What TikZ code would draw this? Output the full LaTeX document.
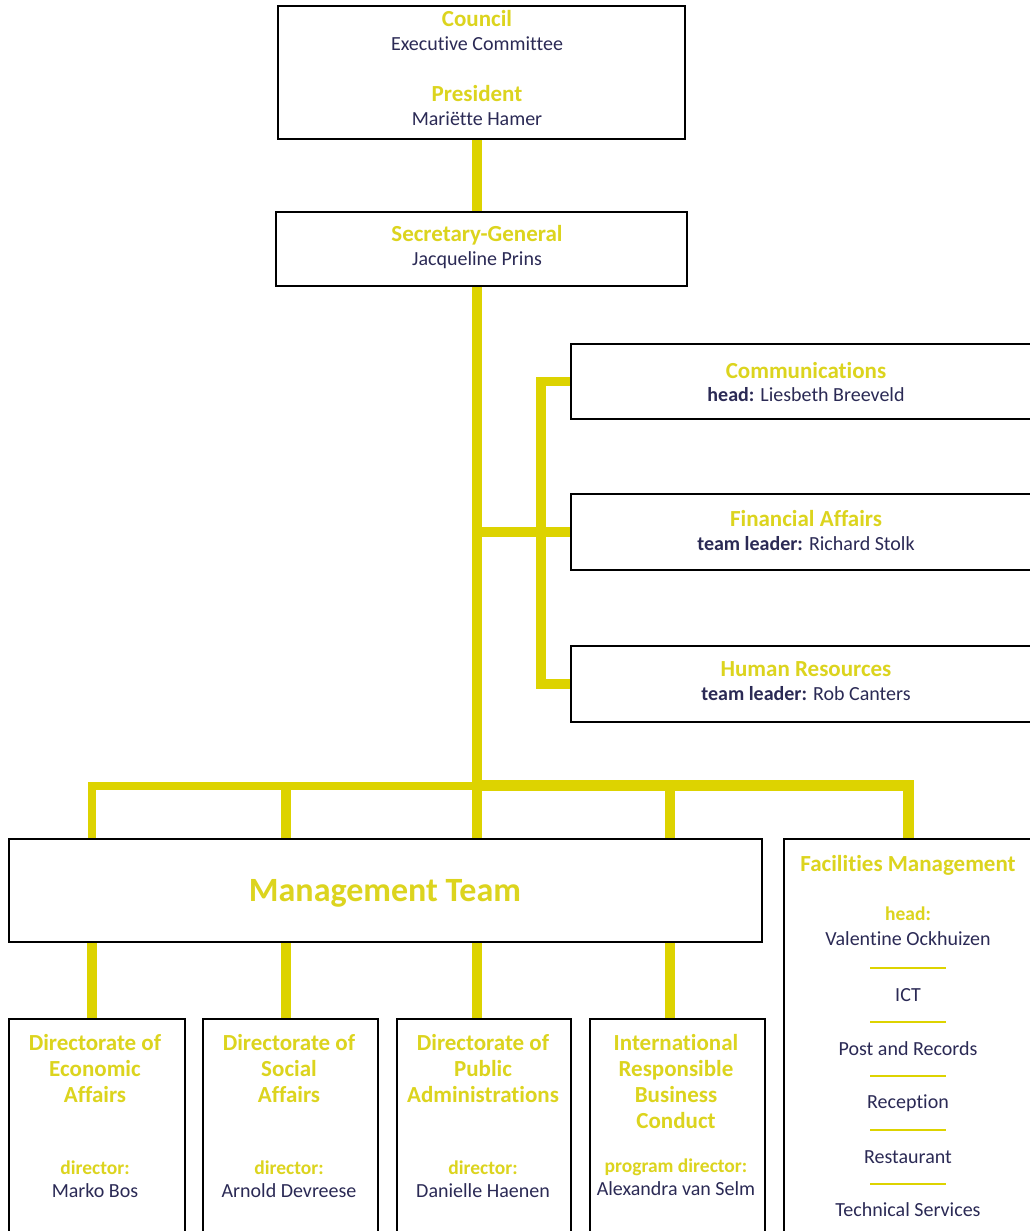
\documentclass[tikz,border=0pt]{standalone}
\usepackage{fontspec}
\setmainfont{Carlito}[Ligatures=CommonOff]
\usetikzlibrary{calc,backgrounds}
\definecolor{ylw}{HTML}{DDD300}
\definecolor{ytext}{HTML}{DCD41E}
\definecolor{navy}{HTML}{2B2A55}
\tikzset{
  box/.style={draw=black, line width=1.8pt, anchor=north west, inner sep=0pt, fill=white},
  conn/.style={draw=ylw, line width=10.5pt},
  ttl/.style={text=ytext, font=\fontsize{23}{27}\selectfont\bfseries, anchor=base, inner sep=0pt},
  nm/.style={text=navy, font=\fontsize{20}{24}\selectfont, anchor=base, inner sep=0pt},
  lbl/.style={text=ytext, font=\fontsize{19.5}{24}\selectfont\bfseries, anchor=base, inner sep=0pt},
  sepline/.style={draw=ylw, line width=2pt}
}
\begin{document}
\begin{tikzpicture}[x=1pt,y=-1pt]
\useasboundingbox (0,0) rectangle (1030,1231);
% boxes
\node[box, minimum width=407pt, minimum height=133pt] (council) at (277,5) {};
\node[box, minimum width=411pt, minimum height=74pt] (sg) at (275,211) {};
\node[box, minimum width=480pt, minimum height=75pt] (comm) at (570,343) {};
\node[box, minimum width=480pt, minimum height=76pt] (fa) at (570,493) {};
\node[box, minimum width=480pt, minimum height=76pt] (hr) at (570,645) {};
\node[box, minimum width=753pt, minimum height=103pt] (mt) at (8,838) {};
\node[box, minimum width=260pt, minimum height=410pt] (fm) at (783,838) {};
\node[box, minimum width=176pt, minimum height=230pt] (eco) at (8,1018) {};
\node[box, minimum width=175pt, minimum height=230pt] (soc) at (202,1018) {};
\node[box, minimum width=174pt, minimum height=230pt] (pub) at (396,1018) {};
\node[box, minimum width=175pt, minimum height=230pt] (irb) at (589,1018) {};
% coordinates
\coordinate (trunk) at (477,785);
\coordinate (brk) at (541,0);
\coordinate (d1) at (92,786);
\coordinate (d2) at (286,786);
\coordinate (d4) at (670,785);
\coordinate (d5) at (908,785);
\begin{scope}[on background layer]
\draw[conn] (council.south -| trunk) -- (sg.north -| trunk);
\draw[conn] (sg.south -| trunk) -- (trunk);
\draw[conn] (fa.west -| trunk) -- (fa.west);
\draw[conn, line width=9.5pt] (comm.west) -- (comm.west -| brk) -- (hr.west -| brk) -- (hr.west);
\draw[conn, line width=8.5pt] ($(trunk)+(5,1)$) -- (d1) -- (mt.north -| d1);
\draw[conn, line width=11pt] ($(trunk)+(-5,0)$) -- (d5) -- (fm.north -| d5);
\draw[conn] (d2) -- (mt.north -| d2);
\draw[conn] (trunk) -- (mt.north -| trunk);
\draw[conn] (d4) -- (mt.north -| d4);
\draw[conn] (mt.south -| d1) -- (eco.north -| d1);
\draw[conn] (mt.south -| d2) -- (soc.north -| d2);
\draw[conn] (mt.south -| trunk) -- (pub.north -| trunk);
\draw[conn] (mt.south -| d4) -- (irb.north -| d4);
\end{scope}
% texts
\node[ttl] (t-council) at (477,26.5) {Council};
\node[nm] (t-exec) at (477,51) {Executive Committee};
\node[ttl] (t-pres) at (477,101.5) {President};
\node[nm] (t-mh) at (477,125) {Mariëtte Hamer};
\node[ttl] (t-sg) at (477,241.5) {Secretary-General};
\node[nm] (t-jp) at (477,265) {Jacqueline Prins};
\node[ttl] (t-comm) at (806,378) {Communications};
\node[nm] (t-commh) at (806,401.5) {\textbf{head:} Liesbeth Breeveld};
\node[ttl] (t-fa) at (806,526.5) {Financial Affairs};
\node[nm] (t-fah) at (806,550) {\textbf{team leader:} Richard Stolk};
\node[ttl] (t-hr) at (806,676.5) {Human Resources};
\node[nm] (t-hrh) at (806,700) {\textbf{team leader:} Rob Canters};
\node[text=ytext, font=\fontsize{34}{40}\selectfont\bfseries, anchor=base, inner sep=0pt] (t-mt) at (385,901.5) {Management Team};
% facilities
\node[ttl] (t-fm) at (908,871.5) {Facilities Management};
\node[lbl] (t-fmh) at (908,920) {head:};
\node[nm] (t-vo) at (908,945) {Valentine Ockhuizen};
\node[nm] (t-ict) at (908,1001.5) {ICT};
\node[nm] (t-post) at (908,1055) {Post and Records};
\node[nm] (t-rec) at (908,1108) {Reception};
\node[nm] (t-rest) at (908,1163) {Restaurant};
\node[nm] (t-tech) at (908,1216.5) {Technical Services};
\foreach \yy in {968,1022,1076,1130,1184} \draw[sepline] (870,\yy) -- (946,\yy);
% directorates
\node[ttl] (e1) at (95,1050) {Directorate of};
\node[ttl] (e2) at (95,1076) {Economic};
\node[ttl] (e3) at (95,1102) {Affairs};
\node[lbl] (e4) at (95,1174) {director:};
\node[nm] (e5) at (95,1197.5) {Marko Bos};
\node[ttl] (s1) at (289,1050) {Directorate of};
\node[ttl] (s2) at (289,1076) {Social};
\node[ttl] (s3) at (289,1102) {Affairs};
\node[lbl] (s4) at (289,1174) {director:};
\node[nm] (s5) at (289,1197.5) {Arnold Devreese};
\node[ttl] (p1) at (483,1050) {Directorate of};
\node[ttl] (p2) at (483,1076) {Public};
\node[ttl] (p3) at (483,1102) {Administrations};
\node[lbl] (p4) at (483,1174) {director:};
\node[nm] (p5) at (483,1197.5) {Danielle Haenen};
\node[ttl] (i1) at (676,1050) {International};
\node[ttl] (i2) at (676,1076) {Responsible};
\node[ttl] (i3) at (676,1102) {Business};
\node[ttl] (i4) at (676,1128.5) {Conduct};
\node[lbl] (i5) at (676,1172) {program director:};
\node[nm] (i6) at (676,1195) {Alexandra van Selm};
\end{tikzpicture}
\end{document}
